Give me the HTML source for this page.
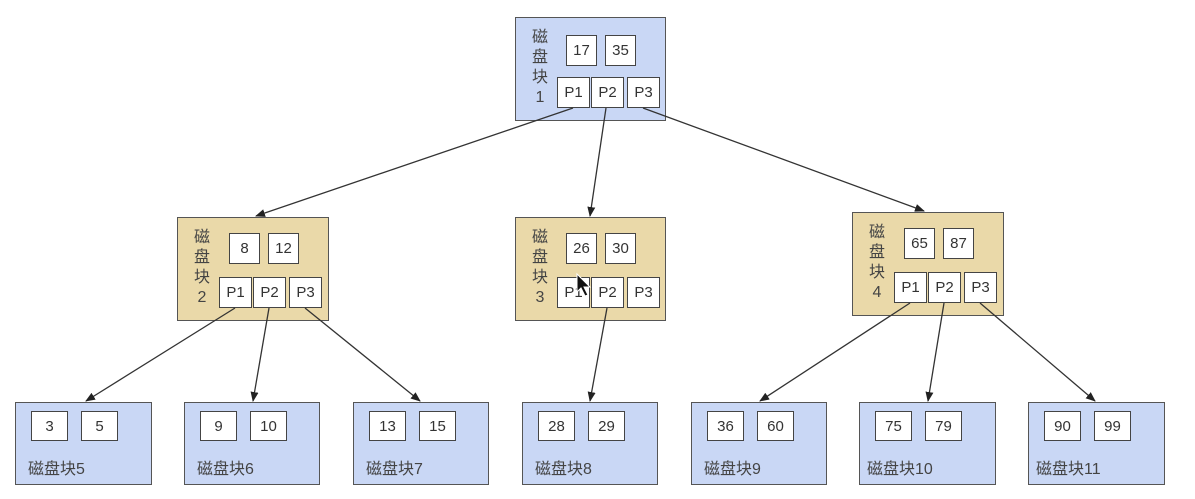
<!DOCTYPE html>
<html><head><meta charset="utf-8"><style>
body{margin:0;width:1195px;height:499px;background:#fff;overflow:hidden;position:relative;font-family:"Liberation Sans","Noto Sans CJK SC",sans-serif;}
.n{position:absolute;border:1.5px solid #555;box-sizing:border-box;}
.b{background:#c9d7f5}.t{background:#ead9a9}
.k{position:absolute;background:#fff;border:1.5px solid #444;box-sizing:border-box;display:flex;align-items:center;justify-content:center;font-size:15px;color:#333;}
.v{position:absolute;font-size:16px;color:#444;line-height:20px;text-align:center;width:20px;}
.l{position:absolute;font-size:16px;color:#444;}
svg{position:absolute;left:0;top:0}
</style></head><body>
<div class="n b" style="left:515px;top:17px;width:151px;height:104px"></div>
<div class="n t" style="left:177px;top:217px;width:152px;height:104px"></div>
<div class="n t" style="left:515px;top:217px;width:151px;height:104px"></div>
<div class="n t" style="left:852px;top:212px;width:152px;height:104px"></div>

<div class="v" style="left:530px;top:28px">磁<br>盘<br>块<br>1</div>
<div class="v" style="left:192px;top:228px">磁<br>盘<br>块<br>2</div>
<div class="v" style="left:530px;top:228px">磁<br>盘<br>块<br>3</div>
<div class="v" style="left:867px;top:223px">磁<br>盘<br>块<br>4</div>

<div class="k" style="left:566px;top:35px;width:31px;height:31px">17</div>
<div class="k" style="left:605px;top:35px;width:31px;height:31px">35</div>
<div class="k" style="left:557px;top:77px;width:33px;height:31px">P1</div>
<div class="k" style="left:591px;top:77px;width:33px;height:31px">P2</div>
<div class="k" style="left:627px;top:77px;width:33px;height:31px">P3</div>

<div class="k" style="left:229px;top:233px;width:31px;height:31px">8</div>
<div class="k" style="left:268px;top:233px;width:31px;height:31px">12</div>
<div class="k" style="left:219px;top:277px;width:33px;height:31px">P1</div>
<div class="k" style="left:253px;top:277px;width:33px;height:31px">P2</div>
<div class="k" style="left:289px;top:277px;width:33px;height:31px">P3</div>

<div class="k" style="left:566px;top:233px;width:31px;height:31px">26</div>
<div class="k" style="left:605px;top:233px;width:31px;height:31px">30</div>
<div class="k" style="left:557px;top:277px;width:33px;height:31px">P1</div>
<div class="k" style="left:591px;top:277px;width:33px;height:31px">P2</div>
<div class="k" style="left:627px;top:277px;width:33px;height:31px">P3</div>

<div class="k" style="left:904px;top:228px;width:31px;height:31px">65</div>
<div class="k" style="left:943px;top:228px;width:31px;height:31px">87</div>
<div class="k" style="left:894px;top:272px;width:33px;height:31px">P1</div>
<div class="k" style="left:928px;top:272px;width:33px;height:31px">P2</div>
<div class="k" style="left:964px;top:272px;width:33px;height:31px">P3</div>

<div class="n b" style="left:15px;top:402px;width:137px;height:83px"></div>
<div class="n b" style="left:184px;top:402px;width:136px;height:83px"></div>
<div class="n b" style="left:353px;top:402px;width:136px;height:83px"></div>
<div class="n b" style="left:522px;top:402px;width:136px;height:83px"></div>
<div class="n b" style="left:691px;top:402px;width:136px;height:83px"></div>
<div class="n b" style="left:859px;top:402px;width:137px;height:83px"></div>
<div class="n b" style="left:1028px;top:402px;width:137px;height:83px"></div>

<div class="k" style="left:31px;top:411px;width:37px;height:30px">3</div>
<div class="k" style="left:81px;top:411px;width:37px;height:30px">5</div>
<div class="k" style="left:200px;top:411px;width:37px;height:30px">9</div>
<div class="k" style="left:250px;top:411px;width:37px;height:30px">10</div>
<div class="k" style="left:369px;top:411px;width:37px;height:30px">13</div>
<div class="k" style="left:419px;top:411px;width:37px;height:30px">15</div>
<div class="k" style="left:538px;top:411px;width:37px;height:30px">28</div>
<div class="k" style="left:588px;top:411px;width:37px;height:30px">29</div>
<div class="k" style="left:707px;top:411px;width:37px;height:30px">36</div>
<div class="k" style="left:757px;top:411px;width:37px;height:30px">60</div>
<div class="k" style="left:875px;top:411px;width:37px;height:30px">75</div>
<div class="k" style="left:925px;top:411px;width:37px;height:30px">79</div>
<div class="k" style="left:1044px;top:411px;width:37px;height:30px">90</div>
<div class="k" style="left:1094px;top:411px;width:37px;height:30px">99</div>

<div class="l" style="left:28px;top:455px">磁盘块5</div>
<div class="l" style="left:197px;top:455px">磁盘块6</div>
<div class="l" style="left:366px;top:455px">磁盘块7</div>
<div class="l" style="left:535px;top:455px">磁盘块8</div>
<div class="l" style="left:704px;top:455px">磁盘块9</div>
<div class="l" style="left:867px;top:455px">磁盘块10</div>
<div class="l" style="left:1036px;top:455px">磁盘块11</div>

<svg width="1195" height="499">
<defs><marker id="a" markerWidth="10" markerHeight="8" refX="9" refY="4" orient="auto" markerUnits="userSpaceOnUse"><path d="M0,0 L10,4 L0,8 z" fill="#222"/></marker></defs>
<g stroke="#333" stroke-width="1.3" marker-end="url(#a)">
<line x1="573" y1="108" x2="256" y2="216"/>
<line x1="606" y1="108" x2="590" y2="216"/>
<line x1="643" y1="108" x2="924" y2="211"/>
<line x1="235" y1="308" x2="86" y2="401"/>
<line x1="269" y1="308" x2="253" y2="401"/>
<line x1="305" y1="308" x2="420" y2="401"/>
<line x1="607" y1="308" x2="590" y2="401"/>
<line x1="910" y1="303" x2="760" y2="401"/>
<line x1="944" y1="303" x2="928" y2="401"/>
<line x1="980" y1="303" x2="1095" y2="401"/>
</g>
<path d="M577,274 L577,292 L581,288 L585,296 L588,295 L584,287 L590,287 Z" fill="#111" stroke="#fff" stroke-width="1"/>
</svg>
</body></html>
